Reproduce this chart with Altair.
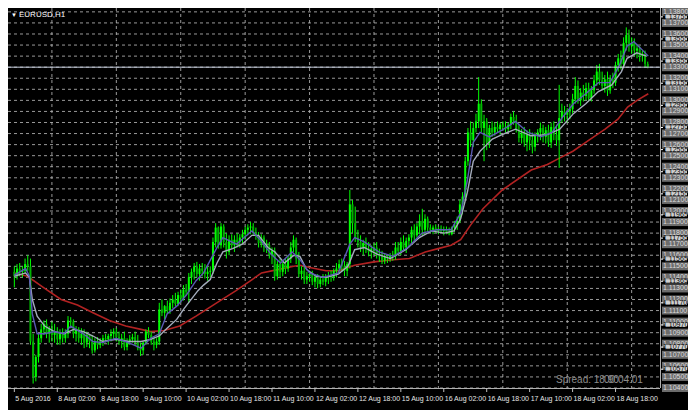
import altair as alt
import pandas as pd

W, H = 652, 380
X_DOMAIN = [-0.5, 238.7]
Y_DOMAIN = [1.1040, 1.13835]
FONT = "Liberation Sans"

symbol = "EURUSD,H1"
current_price = 1.1330
first_open = 1.1145

close = [
    1.1141, 1.1148, 1.1145, 1.1146, 1.1152, 1.1150, 1.1082, 1.1050, 1.1068, 1.1085,
    1.1093, 1.1098, 1.1089, 1.1094, 1.1088, 1.1091, 1.1084, 1.1089, 1.1085, 1.1089,
    1.1101, 1.1100, 1.1089, 1.1093, 1.1085, 1.1089, 1.1081, 1.1088, 1.1082, 1.1074,
    1.1082, 1.1079, 1.1082, 1.1085, 1.1084, 1.1087, 1.1089, 1.1091, 1.1086, 1.1082,
    1.1085, 1.1077, 1.1082, 1.1084, 1.1086, 1.1081, 1.1076, 1.1074, 1.1081, 1.1091,
    1.1088, 1.1082, 1.1079, 1.1082, 1.1111, 1.1108, 1.1114, 1.1110, 1.1117, 1.1120,
    1.1116, 1.1124, 1.1121, 1.1129, 1.1127, 1.1140, 1.1145, 1.1150, 1.1143, 1.1148,
    1.1146, 1.1143, 1.1145, 1.1146, 1.1172, 1.1185, 1.1169, 1.1186, 1.1172, 1.1163,
    1.1174, 1.1169, 1.1174, 1.1172, 1.1176, 1.1179, 1.1183, 1.1185, 1.1186, 1.1180,
    1.1178, 1.1171, 1.1176, 1.1167, 1.1169, 1.1160, 1.1164, 1.1141, 1.1152, 1.1145,
    1.1152, 1.1148, 1.1157, 1.1167, 1.1174, 1.1157, 1.1143, 1.1146, 1.1138, 1.1141,
    1.1143, 1.1136, 1.1140, 1.1134, 1.1138, 1.1136, 1.1140, 1.1141, 1.1140, 1.1146,
    1.1148, 1.1152, 1.1150, 1.1146, 1.1152, 1.1206, 1.1189, 1.1176, 1.1172, 1.1167,
    1.1171, 1.1166, 1.1163, 1.1166, 1.1167, 1.1160, 1.1159, 1.1155, 1.1159, 1.1157,
    1.1160, 1.1159, 1.1167, 1.1164, 1.1172, 1.1167, 1.1173, 1.1176, 1.1183, 1.1178,
    1.1186, 1.1191, 1.1183, 1.1193, 1.1185, 1.1183, 1.1185, 1.1182, 1.1184, 1.1182,
    1.1183, 1.1181, 1.1179, 1.1185, 1.1188, 1.1191, 1.1206, 1.1213, 1.1245, 1.1271,
    1.1264, 1.1275, 1.1281, 1.1297, 1.1275, 1.1281, 1.1262, 1.1275, 1.1271, 1.1276,
    1.1274, 1.1278, 1.1276, 1.1274, 1.1278, 1.1285, 1.1281, 1.1273, 1.1266, 1.1271,
    1.1262, 1.1269, 1.1264, 1.1258, 1.1268, 1.1271, 1.1275, 1.1267, 1.1273, 1.1262,
    1.1276, 1.1269, 1.1264, 1.1284, 1.1290, 1.1287, 1.1290, 1.1292, 1.1301, 1.1313,
    1.1300, 1.1307, 1.1304, 1.1311, 1.1302, 1.1309, 1.1318, 1.1326, 1.1318, 1.1313,
    1.1319, 1.1309, 1.1319, 1.1316, 1.1332, 1.1338, 1.1333, 1.1352, 1.1359, 1.1349,
    1.1352, 1.1345, 1.1347, 1.1340, 1.1342, 1.1333, 1.1330,
]

high = [
    1.1150, 1.1152, 1.1153, 1.1150, 1.1157, 1.1160, 1.1157, 1.1089, 1.1070, 1.1089,
    1.1098, 1.1101, 1.1102, 1.1096, 1.1100, 1.1098, 1.1095, 1.1093, 1.1094, 1.1093,
    1.1105, 1.1104, 1.1102, 1.1096, 1.1095, 1.1094, 1.1093, 1.1091, 1.1089, 1.1088,
    1.1085, 1.1086, 1.1085, 1.1088, 1.1089, 1.1089, 1.1093, 1.1094, 1.1094, 1.1091,
    1.1089, 1.1091, 1.1085, 1.1088, 1.1089, 1.1091, 1.1088, 1.1081, 1.1082, 1.1093,
    1.1095, 1.1091, 1.1087, 1.1085, 1.1117, 1.1120, 1.1115, 1.1119, 1.1121, 1.1124,
    1.1126, 1.1127, 1.1129, 1.1133, 1.1134, 1.1144, 1.1148, 1.1153, 1.1154, 1.1152,
    1.1153, 1.1152, 1.1150, 1.1150, 1.1176, 1.1189, 1.1186, 1.1189, 1.1188, 1.1180,
    1.1178, 1.1179, 1.1178, 1.1180, 1.1179, 1.1183, 1.1186, 1.1188, 1.1190, 1.1189,
    1.1185, 1.1181, 1.1179, 1.1178, 1.1174, 1.1172, 1.1167, 1.1167, 1.1155, 1.1157,
    1.1155, 1.1157, 1.1160, 1.1172, 1.1178, 1.1176, 1.1163, 1.1150, 1.1150, 1.1145,
    1.1146, 1.1146, 1.1143, 1.1143, 1.1141, 1.1143, 1.1143, 1.1145, 1.1146, 1.1148,
    1.1153, 1.1156, 1.1157, 1.1155, 1.1154, 1.1219, 1.1210, 1.1204, 1.1183, 1.1178,
    1.1174, 1.1176, 1.1172, 1.1169, 1.1171, 1.1172, 1.1166, 1.1164, 1.1162, 1.1161,
    1.1162, 1.1164, 1.1172, 1.1172, 1.1176, 1.1178, 1.1176, 1.1179, 1.1186, 1.1188,
    1.1189, 1.1197, 1.1202, 1.1197, 1.1195, 1.1188, 1.1187, 1.1188, 1.1186, 1.1187,
    1.1186, 1.1186, 1.1185, 1.1186, 1.1191, 1.1195, 1.1210, 1.1217, 1.1249, 1.1275,
    1.1281, 1.1280, 1.1288, 1.1321, 1.1301, 1.1287, 1.1284, 1.1278, 1.1281, 1.1280,
    1.1281, 1.1280, 1.1281, 1.1281, 1.1280, 1.1288, 1.1290, 1.1287, 1.1278, 1.1274,
    1.1276, 1.1273, 1.1274, 1.1271, 1.1271, 1.1274, 1.1280, 1.1278, 1.1276, 1.1278,
    1.1280, 1.1281, 1.1278, 1.1314, 1.1297, 1.1295, 1.1293, 1.1297, 1.1306, 1.1321,
    1.1318, 1.1311, 1.1314, 1.1316, 1.1316, 1.1313, 1.1323, 1.1332, 1.1333, 1.1326,
    1.1323, 1.1326, 1.1323, 1.1325, 1.1335, 1.1342, 1.1345, 1.1357, 1.1366, 1.1364,
    1.1357, 1.1356, 1.1351, 1.1349, 1.1345, 1.1345, 1.1335,
]

low = [
    1.1131, 1.1138, 1.1141, 1.1140, 1.1143, 1.1146, 1.1079, 1.1044, 1.1046, 1.1063,
    1.1081, 1.1088, 1.1085, 1.1081, 1.1082, 1.1081, 1.1079, 1.1079, 1.1081, 1.1081,
    1.1085, 1.1094, 1.1085, 1.1082, 1.1081, 1.1079, 1.1076, 1.1077, 1.1076, 1.1071,
    1.1072, 1.1075, 1.1076, 1.1078, 1.1081, 1.1079, 1.1082, 1.1084, 1.1082, 1.1079,
    1.1076, 1.1074, 1.1074, 1.1079, 1.1081, 1.1079, 1.1074, 1.1069, 1.1070, 1.1079,
    1.1085, 1.1079, 1.1074, 1.1076, 1.1079, 1.1105, 1.1102, 1.1107, 1.1107, 1.1112,
    1.1114, 1.1114, 1.1117, 1.1119, 1.1124, 1.1117, 1.1134, 1.1138, 1.1140, 1.1137,
    1.1141, 1.1139, 1.1137, 1.1140, 1.1143, 1.1167, 1.1166, 1.1166, 1.1167, 1.1157,
    1.1160, 1.1166, 1.1163, 1.1167, 1.1167, 1.1171, 1.1174, 1.1178, 1.1179, 1.1178,
    1.1174, 1.1167, 1.1167, 1.1163, 1.1162, 1.1157, 1.1152, 1.1137, 1.1138, 1.1140,
    1.1141, 1.1143, 1.1145, 1.1153, 1.1163, 1.1152, 1.1140, 1.1138, 1.1134, 1.1134,
    1.1136, 1.1133, 1.1131, 1.1130, 1.1131, 1.1133, 1.1132, 1.1134, 1.1136, 1.1137,
    1.1140, 1.1143, 1.1145, 1.1141, 1.1141, 1.1148, 1.1180, 1.1172, 1.1167, 1.1163,
    1.1160, 1.1162, 1.1159, 1.1157, 1.1160, 1.1157, 1.1154, 1.1152, 1.1152, 1.1153,
    1.1154, 1.1155, 1.1156, 1.1160, 1.1160, 1.1164, 1.1162, 1.1167, 1.1171, 1.1172,
    1.1176, 1.1179, 1.1178, 1.1179, 1.1181, 1.1180, 1.1179, 1.1180, 1.1179, 1.1180,
    1.1178, 1.1179, 1.1178, 1.1178, 1.1181, 1.1183, 1.1189, 1.1197, 1.1210, 1.1241,
    1.1258, 1.1258, 1.1271, 1.1275, 1.1271, 1.1245, 1.1255, 1.1257, 1.1267, 1.1268,
    1.1271, 1.1269, 1.1273, 1.1271, 1.1271, 1.1274, 1.1278, 1.1271, 1.1262, 1.1261,
    1.1258, 1.1254, 1.1255, 1.1252, 1.1254, 1.1262, 1.1264, 1.1262, 1.1261, 1.1258,
    1.1257, 1.1264, 1.1259, 1.1239, 1.1280, 1.1281, 1.1280, 1.1283, 1.1288, 1.1297,
    1.1297, 1.1295, 1.1299, 1.1300, 1.1299, 1.1299, 1.1306, 1.1313, 1.1314, 1.1309,
    1.1307, 1.1304, 1.1306, 1.1311, 1.1313, 1.1326, 1.1328, 1.1330, 1.1345, 1.1344,
    1.1342, 1.1340, 1.1338, 1.1335, 1.1335, 1.1330, 1.1329,
]

ma_slow_idx = [0, 4.9, 11.3, 17.4, 23.5, 29.3, 35.4, 41.5, 47.2, 50.8, 55.8, 61.6, 67.7,
               75.4, 82.6, 88.6, 92.1, 98.1, 104.1, 106.5, 110.1, 116.1, 120.8, 126.8, 134,
               141.2, 147.2, 153.1, 157.9, 162.7, 166.3, 169.9, 174.6, 181.8, 192.6, 198.6,
               203.3, 208.1, 214.1, 220.1, 224.9, 228.5, 232, 236.2]
ma_slow_val = [1.1144, 1.1141, 1.1130, 1.1120, 1.1115, 1.1108, 1.1101, 1.1096, 1.1093, 1.1091,
               1.1092, 1.1096, 1.1105, 1.1117, 1.1128, 1.1138, 1.1144, 1.1147, 1.1150, 1.1151,
               1.1149, 1.1146, 1.1146, 1.1151, 1.1154, 1.1156, 1.1157, 1.1163, 1.1166, 1.1169,
               1.1174, 1.1187, 1.1202, 1.1219, 1.1237, 1.1242, 1.1248, 1.1254, 1.1264, 1.1274,
               1.1283, 1.1294, 1.1300, 1.1306]

ma_mid_idx = [0, 4.2, 5.6, 6.7, 8.5, 11.3, 14.9, 18.5, 22.1, 25.7, 29.3, 32.9, 37.9, 42.5,
              47.2, 50.8, 54.0, 56.9, 60.5, 63.3, 68.4, 70.5, 73.0, 75.5, 77.7, 81.3, 84.9,
              88.5, 91.0, 94.5, 97.1, 100.6, 104.2, 106.4, 108.9, 112.5, 116.1, 120.7, 124.3,
              126.8, 130.4, 135.1, 140.1, 145.8, 150.9, 155.5, 160.2, 163.8, 166.3, 168.8,
              171.0, 173.5, 176.0, 178.1, 181.7, 186.7, 192.5, 198.6, 203.2, 208.3, 212.9,
              217.6, 222.6, 226.2, 228.3, 231.9, 235.5]
ma_mid_val = [1.1141, 1.1144, 1.1140, 1.1120, 1.1105, 1.1096, 1.1091, 1.1089, 1.1093, 1.1091,
              1.1087, 1.1082, 1.1084, 1.1082, 1.1082, 1.1084, 1.1087, 1.1094, 1.1102, 1.1112,
              1.1128, 1.1133, 1.1138, 1.1153, 1.1163, 1.1166, 1.1170, 1.1178, 1.1178, 1.1167,
              1.1163, 1.1153, 1.1160, 1.1159, 1.1147, 1.1141, 1.1140, 1.1143, 1.1150, 1.1165,
              1.1167, 1.1161, 1.1157, 1.1165, 1.1176, 1.1182, 1.1180, 1.1182, 1.1193, 1.1217,
              1.1245, 1.1254, 1.1260, 1.1265, 1.1269, 1.1274, 1.1268, 1.1269, 1.1274, 1.1288,
              1.1297, 1.1308, 1.1314, 1.1326, 1.1338, 1.1343, 1.1340]

ma_fast_idx = [0, 4.2, 5.6, 6.7, 8.5, 11.3, 14.9, 18.5, 21.0, 25.7, 29.3, 32.9, 37.9, 42.5,
               47.2, 50.8, 54.0, 56.9, 60.5, 64.1, 67.7, 70.5, 75.5, 77.7, 82.7, 88.5, 92.0,
               95.6, 99.2, 103.5, 106.4, 110.0, 115.0, 120.7, 125.0, 126.8, 130.4, 135.8,
               141.2, 146.6, 151.9, 157.3, 162.7, 166.3, 168.8, 171.0, 173.5, 177.0, 181.7,
               186.7, 191.4, 196.1, 200.4, 204.0, 208.3, 212.9, 217.6, 221.9, 225.5, 228.3,
               230.8, 233.4, 236.2]
ma_fast_val = [1.1142, 1.1148, 1.1141, 1.1107, 1.1089, 1.1089, 1.1091, 1.1089, 1.1096, 1.1089,
               1.1082, 1.1081, 1.1085, 1.1081, 1.1076, 1.1085, 1.1089, 1.1107, 1.1114, 1.1124,
               1.1137, 1.1144, 1.1167, 1.1176, 1.1170, 1.1182, 1.1173, 1.1161, 1.1153, 1.1163,
               1.1156, 1.1144, 1.1140, 1.1144, 1.1170, 1.1176, 1.1172, 1.1163, 1.1159, 1.1167,
               1.1180, 1.1183, 1.1183, 1.1198, 1.1228, 1.1262, 1.1271, 1.1267, 1.1273, 1.1281,
               1.1271, 1.1267, 1.1271, 1.1284, 1.1297, 1.1306, 1.1316, 1.1316, 1.1332, 1.1349,
               1.1353, 1.1347, 1.1340]

price_labels = ["1.13800", "1.13700", "1.13600", "1.13500", "1.13400", "1.13300", "1.13200",
                "1.13100", "1.13000", "1.12900", "1.12800", "1.12700", "1.12600", "1.12500",
                "1.12400", "1.12300", "1.12200", "1.12100", "1.12000", "1.11900", "1.11800",
                "1.11700", "1.11600", "1.11500", "1.11400", "1.11300", "1.11200", "1.11100",
                "1.11000", "1.10900", "1.10800", "1.10700", "1.10600", "1.10500", "1.10400"]
scale_labels = ["1.13755", "1.13555", "1.13355", "1.13155", "1.12955", "1.12755", "1.12555",
                "1.12355", "1.12155", "1.11965", "1.11755", "1.11565", "1.11365", "1.11170",
                "1.10970", "1.10770", "1.10570"]
day_start_idx = [14, 38, 62, 86, 110, 134, 158, 182, 206, 230]
time_idx = [0, 16, 32, 48, 64, 80, 96, 112, 128, 144, 160, 176, 192, 208, 224]
time_labels = ["5 Aug 2016", "8 Aug 02:00", "8 Aug 18:00", "9 Aug 10:00", "10 Aug 02:00",
               "10 Aug 18:00", "11 Aug 10:00", "12 Aug 02:00", "12 Aug 18:00", "15 Aug 10:00",
               "16 Aug 02:00", "16 Aug 18:00", "17 Aug 10:00", "18 Aug 02:00", "18 Aug 18:00"]
info_texts = ["Spread: 18.90", "00:04:01"]

# ---------------------------------------------------------------- tables
opens = [first_open] + close[:-1]
bars = pd.DataFrame({"i": list(range(len(close))), "o": opens, "h": high, "l": low, "c": close})
bars["d"] = ["up" if c >= o else "down" for o, c in zip(opens, close)]

levels = pd.DataFrame({"t": price_labels, "p": [float(s) for s in price_labels]})
marks = pd.DataFrame({"t": scale_labels, "p": [float(s) for s in scale_labels]})
one = pd.DataFrame({"k": [0]})

xs = alt.Scale(domain=X_DOMAIN, nice=False, zero=False)
ys = alt.Scale(domain=Y_DOMAIN, nice=False, zero=False)


def X(f):
    return alt.X(f, type="quantitative", scale=xs, axis=None)


def Y(f):
    return alt.Y(f, type="quantitative", scale=ys, axis=None)


GRID = "#b4b4b4"

grid_h = alt.Chart(levels).mark_rule(color=GRID, strokeWidth=1, strokeDash=[3, 3], opacity=0.85).encode(
    y=Y("p"), x=alt.value(0), x2=alt.value(W))
grid_v = alt.Chart(pd.DataFrame({"i": day_start_idx})).mark_rule(
    color=GRID, strokeWidth=1, strokeDash=[3, 3], opacity=0.85).encode(
    x=X("i"), y=alt.value(0), y2=alt.value(H))

ma_slow = alt.Chart(pd.DataFrame({"i": ma_slow_idx, "v": ma_slow_val})).mark_line(
    color="#b22222", strokeWidth=1.6).encode(x=X("i"), y=Y("v"))
ma_mid = alt.Chart(pd.DataFrame({"i": ma_mid_idx, "v": ma_mid_val})).mark_line(
    color="#a4acbc", strokeWidth=1.4).encode(x=X("i"), y=Y("v"))
ma_fast = alt.Chart(pd.DataFrame({"i": ma_fast_idx, "v": ma_fast_val})).mark_line(
    color="#5a5ab4", strokeWidth=1.4).encode(x=X("i"), y=Y("v"))

wicks = alt.Chart(bars).mark_rule(color="#00ff00", strokeWidth=1).encode(
    x=X("i"), y=Y("l"), y2=alt.Y2("h"))
bodies = alt.Chart(bars).mark_bar(size=2).encode(
    x=X("i"), y=Y("o"), y2=alt.Y2("c"),
    color=alt.Color("d:N", scale=alt.Scale(domain=["up", "down"], range=["#00ff00", "#00b400"]),
                    legend=None))

price_line = alt.Chart(pd.DataFrame({"p": [current_price]})).mark_rule(
    color="#c8d0e0", strokeWidth=1).encode(y=Y("p"), x=alt.value(0), x2=alt.value(W))

frame_r = alt.Chart(one).mark_rule(color="#b0b0b0", strokeWidth=1).encode(
    x=alt.value(W + 0.5), y=alt.value(0), y2=alt.value(H))
frame_b = alt.Chart(one).mark_rule(color="#b0b0b0", strokeWidth=1).encode(
    y=alt.value(H + 0.5), x=alt.value(0), x2=alt.value(W))

box = alt.Chart(levels).mark_rule(color="#6c6c6c", strokeWidth=8).encode(
    y=Y("p"), x=alt.value(W + 2), x2=alt.value(W + 28))
box_text = alt.Chart(levels).mark_text(
    align="left", baseline="middle", font=FONT, fontSize=7, color="#dcdcdc").encode(
    y=Y("p"), x=alt.value(W + 3), text="t:N")

mark_box = alt.Chart(marks).mark_rule(color="#d0d0d0", strokeWidth=4).encode(
    y=Y("p"), x=alt.value(W + 5), x2=alt.value(W + 27))
mark_tick = alt.Chart(marks).mark_rule(color="#ffffff", strokeWidth=1).encode(
    y=Y("p"), x=alt.value(W + 1), x2=alt.value(W + 3))
mark_text = alt.Chart(marks).mark_text(
    align="left", baseline="middle", font=FONT, fontSize=7, color="#000000").encode(
    y=Y("p"), x=alt.value(W + 3), text="t:N")

tdf = pd.DataFrame({"i": time_idx, "t": time_labels})
time_ticks = alt.Chart(tdf).mark_rule(color="#c0c0c0", strokeWidth=1).encode(
    x=X("i"), y=alt.value(H), y2=alt.value(H + 4))
time_text = alt.Chart(tdf).mark_text(
    align="left", baseline="middle", font=FONT, fontSize=7, color="#e6e6e6", dx=1).encode(
    x=X("i"), y=alt.value(H + 11), text="t:N")

title_tri = alt.Chart(one).mark_text(
    text="▼", align="left", baseline="middle", fontSize=6, color="#ffffff").encode(
    x=alt.value(3), y=alt.value(7))
title_txt = alt.Chart(one).mark_text(
    text=symbol, align="left", baseline="middle", font=FONT, fontSize=8, color="#ffffff").encode(
    x=alt.value(11), y=alt.value(7))

info1 = alt.Chart(one).mark_text(
    text=info_texts[0], align="left", baseline="middle", font=FONT, fontSize=10,
    color="#8c8c8c").encode(x=alt.value(548), y=alt.value(H - 8))
info2 = alt.Chart(one).mark_text(
    text=info_texts[1], align="left", baseline="middle", font=FONT, fontSize=10,
    color="#8c8c8c").encode(x=alt.value(596), y=alt.value(H - 8))

chart = alt.layer(
    grid_h, grid_v, ma_slow, wicks, bodies, ma_mid, ma_fast, price_line,
    frame_r, frame_b, box, box_text, mark_box, mark_tick, mark_text,
    time_ticks, time_text, title_tri, title_txt, info1, info2,
).properties(
    width=W, height=H,
    padding={"left": 0, "top": 0, "right": 28, "bottom": 22},
    autosize=alt.AutoSizeParams(type="none"),
    background="#000000",
).configure_view(stroke=None)

chart.save("out.html", embed_options={"renderer": "svg", "actions": False})
